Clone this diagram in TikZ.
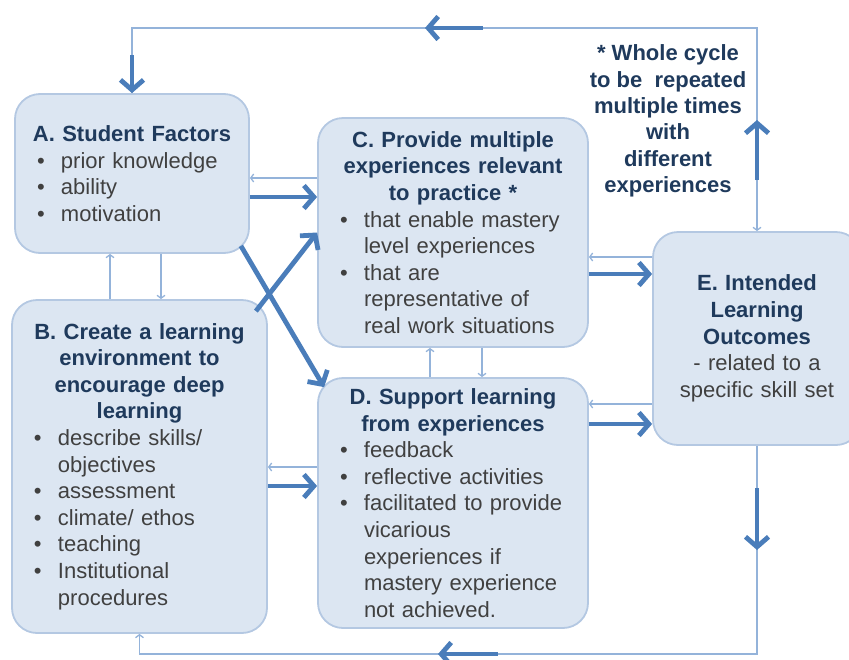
\documentclass[tikz,border=0pt]{standalone}
\usepackage{fontspec}
\setmainfont{Liberation Sans}
\usetikzlibrary{arrows.meta,calc}

\definecolor{boxfill}{HTML}{DCE6F2}
\definecolor{boxline}{HTML}{B4C8E2}
\definecolor{headblue}{HTML}{1F3A5C}
\definecolor{bodygray}{HTML}{404040}
\definecolor{arrblue}{HTML}{4A7DBA}
\definecolor{fbblue}{HTML}{94B3DA}

\newcommand{\hd}[1]{{\centering\bfseries\color{headblue}#1\par}}
\newcommand{\itm}[1]{{\raggedright\hangindent=46pt\hangafter=1\noindent
  \hspace*{22pt}\makebox[24pt][l]{\textbullet}#1\par}}

\begin{document}
\begin{tikzpicture}[x=1pt, y=-1pt,
  blk/.style={draw=boxline, line width=1.8pt, fill=boxfill, rounded corners=25pt,
              inner sep=0pt, text=bodygray, font=\fontsize{22}{26.6}\selectfont},
  note/.style={align=center, text=headblue, font=\fontsize{22}{26.4}\selectfont\bfseries},
  bigarr/.style={draw=arrblue, line width=4.8pt, -{Straight Barb[length=10pt,width=23pt]}},
  fbarr/.style={draw=fbblue, line width=1.3pt, -{Straight Barb[length=3pt,width=8pt]}},
  fbline/.style={draw=fbblue, line width=1.3pt}
]
  \useasboundingbox (0,0) rectangle (849,659);
  \clip (0,0) rectangle (849,659);

  \node[blk, minimum width=234pt, minimum height=159pt, text width=234pt] (A) at (132,173.5)
    {\hd{A. Student Factors}\itm{prior knowledge}\itm{ability}\itm{motivation}};
  \node[blk, minimum width=255pt, minimum height=333pt, text width=255pt] (B) at (139.5,466.5)
    {\hd{B. Create a learning\\environment to\\encourage deep\\learning}%
     \itm{describe skills/\newline objectives}\itm{assessment}\itm{climate/ ethos}%
     \itm{teaching}\itm{Institutional\newline procedures}};
  \node[blk, minimum width=270pt, minimum height=229pt, text width=270pt] (C) at (453,232.5)
    {\hd{C. Provide multiple\\experiences relevant\\to practice *}%
     \itm{that enable mastery\newline level experiences}%
     \itm{that are\newline representative of\newline real work situations}};
  \node[blk, minimum width=270pt, minimum height=250pt, text width=270pt] (D) at (453,503)
    {\hd{D. Support learning\\from experiences}\itm{feedback}\itm{reflective activities}%
     \itm{facilitated to provide\newline vicarious\newline experiences if\newline
          mastery experience\newline not achieved.}};
  \node[blk, minimum width=208pt, minimum height=213pt, text width=208pt] (E) at (757,338.5)
    {\hd{E. Intended\\Learning\\Outcomes}{\centering - related to a\\specific skill set\par}};
  \node[note] (cyc) at (668,121)
    {* Whole cycle\\to be~ repeated\\multiple times\\with\\different\\experiences};

  \coordinate (topR) at (E.north |- 0,28);
  \coordinate (topL) at (A.north |- 0,28);
  \coordinate (botR) at (E.south |- 0,654);
  \coordinate (botL) at (B.south |- 0,654);

  \draw[fbline, {Straight Barb[length=3pt,width=8pt]}-] (E.north) -- (topR) -- (topL) -- (A.north);
  \draw[fbarr] (E.south) -- (botR) -- (botL) -- (B.south);
  \draw[bigarr] (E.north |- 0,180) -- (E.north |- 0,120);
  \draw[bigarr] (483,28) -- (425,28);
  \draw[bigarr] (A.north |- 0,55) -- (A.north);
  \draw[bigarr] (E.south |- 0,488) -- (E.south |- 0,550);
  \draw[bigarr] (498,654) -- (438,654);

  \draw[fbarr] (110,0 |- B.north) -- (110,0 |- A.south);
  \draw[fbarr] (161,0 |- A.south) -- (161,0 |- B.north);
  \draw[fbarr] (430,0 |- D.north) -- (430,0 |- C.south);
  \draw[fbarr] (482,0 |- C.south) -- (482,0 |- D.north);

  \draw[fbarr] (C.west |- 0,178) -- (A.east |- 0,178);
  \draw[bigarr] (A.east |- 0,197) -- (C.west |- 0,197);
  \draw[fbarr] (E.west |- 0,257) -- (C.east |- 0,257);
  \draw[bigarr] (C.east |- 0,274) -- (E.west |- 0,274);
  \draw[fbarr] (D.west |- 0,467) -- (B.east |- 0,467);
  \draw[bigarr] (B.east |- 0,486) -- (D.west |- 0,486);
  \draw[fbarr] (E.west |- 0,404) -- (D.east |- 0,404);
  \draw[bigarr] (D.east |- 0,424) -- (E.west |- 0,424);

  \draw[bigarr] ([shift={(-9,-8)}]A.south east) -- ([shift={(7,10)}]D.north west);
  \draw[bigarr] ([shift={(-12,12)}]B.north east) -- (C.west);
\end{tikzpicture}
\end{document}
